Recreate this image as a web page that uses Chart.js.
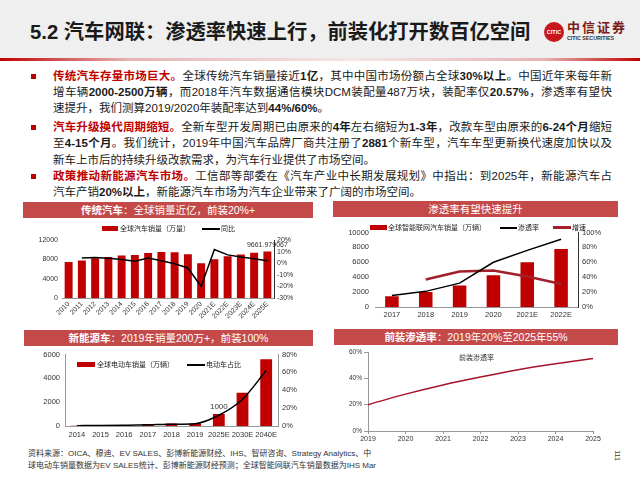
<!DOCTYPE html>
<html><head><meta charset="utf-8">
<script src="https://cdn.jsdelivr.net/npm/chart.js@4.4.1/dist/chart.umd.min.js"></script>
<style>
body{margin:0;width:640px;height:480px;position:relative;overflow:hidden;background:#fff;font-family:"Liberation Sans","Noto Sans CJK SC",sans-serif;}
#hdr{position:absolute;left:0;top:0;width:640px;height:58px;background:#efefef;}
#rule{position:absolute;left:0;top:58px;width:640px;height:3px;background:linear-gradient(to right,#c00000,#e6b3b3 20%,#f4e6e6 55%,#e6b3b3 85%,#c00000);}
#title{position:absolute;left:30px;top:19px;font-size:20.3px;font-weight:bold;color:#1a1a1a;white-space:nowrap;line-height:26px;}
.line{position:absolute;left:53px;width:559px;font-size:11.5px;line-height:16px;height:16px;white-space:nowrap;color:#1a1a1a;}
.j{text-align:justify;text-align-last:justify;}
.r{color:#c00000;font-weight:bold;}
.b{font-weight:bold;}
.sq{position:absolute;left:31px;width:5px;height:5px;background:#c00000;}
.band{position:absolute;height:16px;line-height:16px;background:#c44a4a;color:#fff;text-align:center;font-size:10.5px;white-space:nowrap;}
.leg{position:absolute;font-size:7px;color:#222;white-space:nowrap;line-height:10px;}
.mk{position:absolute;}
canvas{position:absolute;}
.foot{position:absolute;left:28px;font-size:8px;line-height:10px;color:#333;white-space:nowrap;}
</style></head>
<body>
<div id="hdr"></div>
<div id="rule"></div>
<div id="title">5.2 汽车网联：渗透率快速上行，前装化打开数百亿空间</div>
<div style="position:absolute;left:544px;top:22px;width:20px;height:20px;border-radius:50%;background:#c8161d;color:#fff;font-size:5.5px;font-weight:bold;line-height:20px;text-align:center;">CITIC</div>
<div style="position:absolute;left:567px;top:20px;font-size:13px;font-weight:bold;color:#7a1a1a;letter-spacing:2px;line-height:15px;white-space:nowrap;">中信证券</div>
<div style="position:absolute;left:567px;top:35px;font-size:5.3px;font-weight:bold;color:#333;line-height:7px;white-space:nowrap;">CITIC SECURITIES</div>

<div class="sq" style="top:74px"></div>
<div class="line j" style="top:68px"><span class="r">传统汽车存量市场巨大。</span>全球传统汽车销量接近<span class="b">1亿</span>，其中中国市场份额占全球<span class="b">30%以上</span>。中国近年来每年新</div>
<div class="line j" style="top:84px">增车辆<span class="b">2000-2500万辆</span>，而2018年汽车数据通信模块DCM装配量487万块，装配率仅<span class="b">20.57%</span>，渗透率有望快</div>
<div class="line" style="top:100px">速提升，我们测算2019/2020年装配率达到<span class="b">44%/60%</span>。</div>

<div class="sq" style="top:125px"></div>
<div class="line j" style="top:119px"><span class="r">汽车升级换代周期缩短。</span>全新车型开发周期已由原来的<span class="b">4年</span>左右缩短为<span class="b">1-3年</span>，改款车型由原来的<span class="b">6-24个月</span>缩短</div>
<div class="line j" style="top:135px">至<span class="b">4-15个月</span>。我们统计，2019年中国汽车品牌厂商共注册了<span class="b">2881</span>个新车型，汽车车型更新换代速度加快以及</div>
<div class="line" style="top:152px">新车上市后的持续升级改款需求，为汽车行业提供了市场空间。</div>

<div class="sq" style="top:174px"></div>
<div class="line j" style="top:168px"><span class="r">政策推动新能源汽车市场。</span>工信部等部委在《汽车产业中长期发展规划》中指出：到2025年，新能源汽车占</div>
<div class="line" style="top:184px">汽车产销<span class="b">20%以上</span>，新能源汽车市场为汽车企业带来了广阔的市场空间。</div>

<div class="band" style="left:23px;top:202px;width:290px;"><b>传统汽车</b>：全球销量近亿，前装20%+</div>
<div class="band" style="left:333px;top:201px;width:285px;">渗透率有望快速提升</div>
<div class="band" style="left:24px;top:330px;width:289px;"><b>新能源车</b>：2019年销量200万+，前装100%</div>
<div class="band" style="left:334px;top:329px;width:284px;"><b>前装渗透率</b>：2019年20%至2025年55%</div>

<canvas id="c1" width="300" height="95" style="left:20px;top:232px"></canvas>
<canvas id="c2" width="290" height="100" style="left:330px;top:222px"></canvas>
<canvas id="c3" width="300" height="98" style="left:20px;top:345px"></canvas>
<canvas id="c4" width="300" height="100" style="left:325px;top:345px"></canvas>

<!-- legends -->
<div class="mk" style="left:102px;top:226px;width:16px;height:5px;background:#c00000"></div>
<div class="leg" style="left:120px;top:224px">全球汽车销量（万量）</div>
<div class="mk" style="left:202px;top:228px;width:18px;height:1.5px;background:#000"></div>
<div class="leg" style="left:221px;top:224px">同比</div>

<div class="mk" style="left:370px;top:225px;width:17px;height:5px;background:#c00000"></div>
<div class="leg" style="left:388px;top:223px">全球智能联网汽车销量（万辆）</div>
<div class="mk" style="left:500px;top:227px;width:17px;height:1.5px;background:#000"></div>
<div class="leg" style="left:518px;top:223px">渗透率</div>
<div class="mk" style="left:553px;top:226px;width:18px;height:3px;background:#a3202a"></div>
<div class="leg" style="left:572px;top:223px">增速</div>

<div class="mk" style="left:77px;top:362px;width:18px;height:5px;background:#c00000"></div>
<div class="leg" style="left:97px;top:360px">全球电动车销量（万辆）</div>
<div class="mk" style="left:187px;top:364px;width:18px;height:1.5px;background:#000"></div>
<div class="leg" style="left:206px;top:360px">电动车占比</div>

<div class="leg" style="left:459px;top:353px;color:#333">前装渗透率</div>

<div class="foot" style="top:449px">资料来源：OICA、穆迪、EV SALES、彭博新能源财经、IHS、智研咨询、Strategy Analytics、中</div>
<div class="foot" style="top:461px">球电动车销量数据为EV SALES统计、彭博新能源财经预测；全球智能网联汽车销量数据为IHS Mar</div>
<div style="position:absolute;left:612px;top:452px;font-size:7px;color:#444;transform:rotate(90deg);">111</div>

<script>
// ---------- data ----------
const c1Years = ['2010','2011','2012','2013','2014','2015','2016','2017','2018','2019','2020','2021E','2022E','2023E','2024E','2025E'];
const c1Sales = [7450,7800,8250,8500,8800,8950,9350,9550,9500,9100,7200,8050,8650,9050,9400,9661.979067];
const c1Yoy   = [null,4.5,5.0,4.3,3.3,1.8,4.6,2.2,-0.4,-4.0,-20.0,12.0,7.3,5.4,4.0,2.2];
const c1LeftTicks = [0,2000,4000,6000,8000,10000,12000];
const c1RightTicks = [-30,-20,-10,0,10,20];

const c2Years = ['2017','2018','2019','2020','2021E','2022E'];
const c2Sales = [1450,2000,2900,4250,6000,7800];
const c2Pen   = [15.5,21,32,60,76,91];
const c2Growth= [null,37,47.5,49,41,31];

const c3Years = ['2014','2015','2016','2017','2018','2019','2025E','2030E','2040E'];
const c3Sales = [30,55,75,120,200,220,1000,2800,5600];
const c3Share = [0.4,0.6,0.9,1.3,2.0,2.6,12,30,62];

const c4Years = ['2019','2020','2021','2022','2023','2024','2025'];
const c4Pen   = [20,28,35,41,46.5,51,55];

// ---------- common ----------
Chart.defaults.font.family = '"Liberation Sans","Noto Sans CJK SC",sans-serif';
Chart.defaults.font.size = 7;
Chart.defaults.color = '#333';
Chart.defaults.animation = false;
Chart.defaults.responsive = false;
Chart.defaults.devicePixelRatio = 1;
Chart.defaults.plugins.legend.display = false;
Chart.defaults.plugins.tooltip.enabled = false;
const RED = '#c00000';
const fixW = w => s => { s.width = w; };
const fixH = h => s => { s.height = h; };
const pct = v => v + '%';
const plain = v => String(v);
const noGrid = {display:false, drawTicks:false, drawOnChartArea:false};

const valueLabel = (id, ds, idx, text, font, dy) => ({
  id,
  afterDatasetsDraw(chart) {
    const el = chart.getDatasetMeta(ds).data[idx];
    const ctx = chart.ctx;
    ctx.save();
    ctx.font = font;
    ctx.fillStyle = '#333';
    ctx.textAlign = 'center';
    ctx.textBaseline = 'bottom';
    ctx.fillText(text, el.x, el.y - dy);
    ctx.restore();
  }
});

// Chart 1
new Chart(document.getElementById('c1'), {
  data: {
    labels: c1Years,
    datasets: [
      {type:'line', label:'同比', data:c1Yoy, yAxisID:'y1', borderColor:'#000', borderWidth:1.5, pointRadius:0, tension:0, order:0},
      {type:'bar', label:'全球汽车销量（万量）', data:c1Sales, yAxisID:'y', backgroundColor:RED, categoryPercentage:0.6, barPercentage:1, order:1}
    ]
  },
  options: {
    layout:{padding:{top:7,left:0,right:0,bottom:0}},
    scales: {
      x:{offset:true, grid:noGrid, border:{color:'#999'}, ticks:{autoSkip:false,minRotation:45,maxRotation:45,padding:2,font:{size:7}}, afterFit:fixH(29)},
      y:{position:'left', min:0, max:12000, afterBuildTicks:s=>{s.ticks=c1LeftTicks.map(v=>({value:v}));}, grid:noGrid, border:{display:false}, ticks:{padding:4,callback:plain}, afterFit:fixW(42)},
      y1:{position:'right', min:-30, max:20, afterBuildTicks:s=>{s.ticks=c1RightTicks.map(v=>({value:v}));}, grid:noGrid, border:{display:true,color:'#333'}, ticks:{padding:3, callback:pct}, afterFit:fixW(46)}
    }
  },
  plugins:[valueLabel('lbl1',1,15,String(c1Sales[15]),'7px "Liberation Sans"',3)]
});

// Chart 2
new Chart(document.getElementById('c2'), {
  data: {
    labels: c2Years,
    datasets: [
      {type:'line', label:'渗透率', data:c2Pen, yAxisID:'y1', borderColor:'#000', borderWidth:1.5, pointRadius:0, tension:0, order:0},
      {type:'line', label:'增速', data:c2Growth, yAxisID:'y1', borderColor:'#a3202a', borderWidth:2.5, pointRadius:0, tension:0, order:0},
      {type:'bar', label:'全球智能联网汽车销量（万辆）', data:c2Sales, yAxisID:'y', backgroundColor:RED, categoryPercentage:0.4, barPercentage:1, order:1}
    ]
  },
  options: {
    layout:{padding:{top:5,left:0,right:0,bottom:0}},
    scales: {
      x:{offset:true, grid:noGrid, border:{color:'#999'}, ticks:{padding:3,font:{size:7.5},autoSkip:false,minRotation:0,maxRotation:0}, afterFit:fixH(15)},
      y:{position:'left', min:0, max:10000, ticks:{stepSize:2000,padding:6,font:{size:7.5},callback:plain}, grid:noGrid, border:{display:false}, afterFit:fixW(45)},
      y1:{position:'right', min:0, max:100, ticks:{stepSize:20,padding:4,callback:pct,font:{size:7.5}}, grid:noGrid, border:{display:true,color:'#333'}, afterFit:fixW(42)}
    }
  }
});

// Chart 3
new Chart(document.getElementById('c3'), {
  data: {
    labels: c3Years,
    datasets: [
      {type:'line', label:'电动车占比', data:c3Share, yAxisID:'y1', borderColor:'#000', borderWidth:1.5, pointRadius:0, tension:0.4, cubicInterpolationMode:'monotone', order:0},
      {type:'bar', label:'全球电动车销量（万辆）', data:c3Sales, yAxisID:'y', backgroundColor:RED, categoryPercentage:0.5, barPercentage:1, order:1}
    ]
  },
  options: {
    layout:{padding:{top:8,left:0,right:0,bottom:0}},
    scales: {
      x:{offset:true, grid:noGrid, border:{color:'#999'}, ticks:{padding:4,font:{size:7.5},autoSkip:false,minRotation:0,maxRotation:0}, afterFit:fixH(17)},
      y:{position:'left', min:0, max:6000, ticks:{stepSize:2000,padding:5,font:{size:7.5},callback:plain}, grid:noGrid, border:{display:true,color:'#999'}, afterFit:fixW(45)},
      y1:{position:'right', min:0, max:80, ticks:{stepSize:20,padding:4,callback:pct,font:{size:7.5}}, grid:noGrid, border:{display:true,color:'#999'}, afterFit:fixW(42)}
    }
  },
  plugins:[valueLabel('lbl3',1,6,String(c3Sales[6]),'8px "Liberation Sans"',3)]
});

// Chart 4
new Chart(document.getElementById('c4'), {
  type:'line',
  data: {
    labels: c4Years,
    datasets: [
      {label:'前装渗透率', data:c4Pen, borderColor:'#a5142a', borderWidth:1.5, pointRadius:0, tension:0.4, cubicInterpolationMode:'monotone'}
    ]
  },
  options: {
    layout:{padding:{top:7,left:0,right:32,bottom:0}},
    scales: {
      x:{offset:false, grid:{display:true,drawOnChartArea:false,tickLength:3,color:'#999'}, border:{color:'#999'}, ticks:{padding:1,font:{size:7},autoSkip:false,minRotation:0,maxRotation:0}, afterFit:fixH(14)},
      y:{min:0, max:60, ticks:{stepSize:20,padding:2,callback:pct,font:{size:6.5}}, grid:{display:true,drawOnChartArea:false,tickLength:4,color:'#999'}, border:{display:true,color:'#999'}, afterFit:fixW(43)}
    }
  }
});
</script>
</body></html>
